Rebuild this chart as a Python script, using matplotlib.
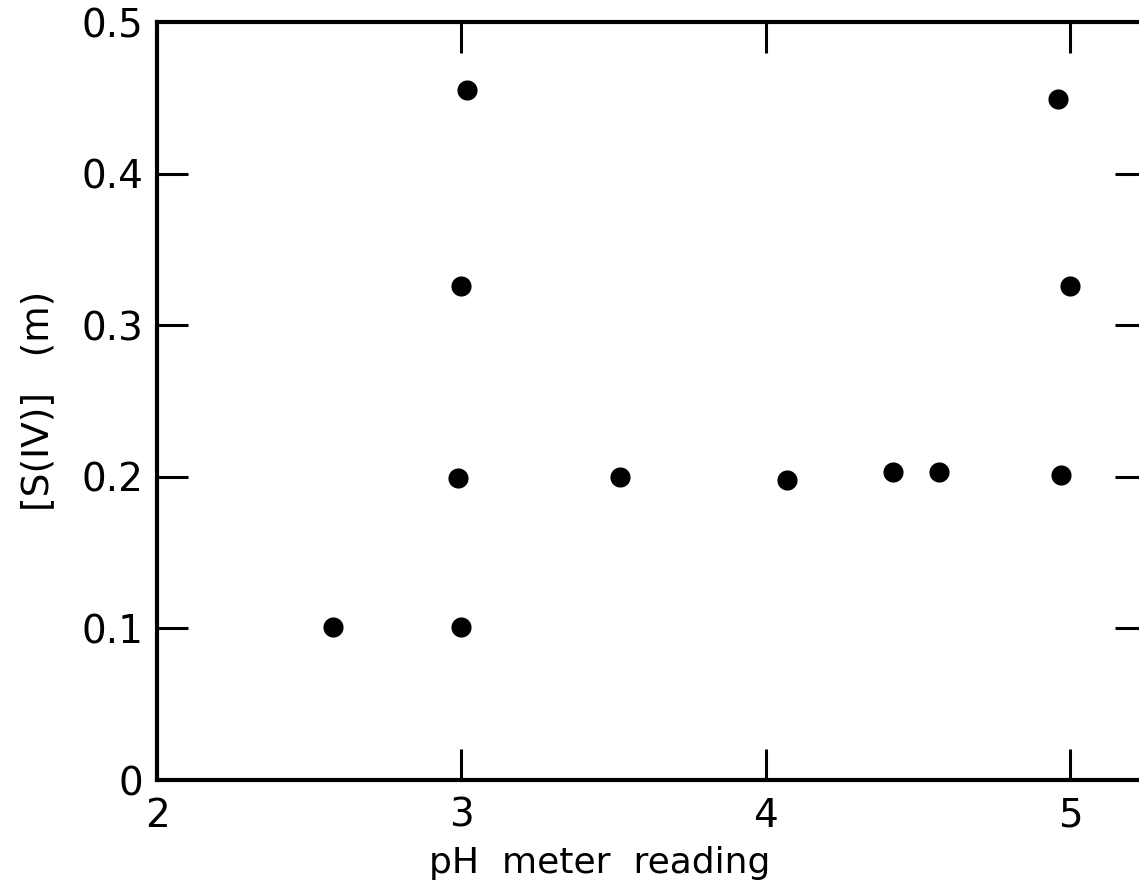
import numpy as np
import matplotlib.pyplot as plt

# pH meter reading vs S(IV) concentration
ph = [2.58, 3.00, 2.99, 3.00, 3.02, 3.52, 4.07, 4.42, 4.57, 4.97, 4.96, 5.00]
s4 = [0.101, 0.101, 0.199, 0.326, 0.455, 0.200, 0.198, 0.203, 0.203, 0.201, 0.449, 0.326]

xticks = [2, 3, 4, 5]
xlabels = ["2", "3", "4", "5"]
yticks = [0, 0.1, 0.2, 0.3, 0.4, 0.5]
ylabels = ["0", "0.1", "0.2", "0.3", "0.4", "0.5"]

W, H = 1139, 896
fig = plt.figure(figsize=(W / 100, H / 100), dpi=100)
# right spine sits just past the edge of the page, as in the scan
ax = fig.add_axes([157 / W, 1 - 780 / H, (1146 - 157) / W, (780 - 22) / H])

ax.scatter(ph, s4, s=210, color="black", zorder=3, linewidths=0)

ax.set_xlim(2, 5.25)
ax.set_ylim(0, 0.5)
ax.set_xticks(xticks)
ax.set_xticklabels(xlabels)
ax.set_yticks(yticks)
ax.set_yticklabels(ylabels)

for sp in ax.spines.values():
    sp.set_linewidth(3)

ax.tick_params(direction="in", length=22, width=2.2, labelsize=28,
               top=True, right=True, pad=10)
ax.tick_params(axis="x", pad=12)

# no tick marks at the corners
for t in ax.xaxis.get_major_ticks()[:1] + ax.yaxis.get_major_ticks()[:1] + ax.yaxis.get_major_ticks()[-1:]:
    t.tick1line.set_visible(False)
    t.tick2line.set_visible(False)

ax.set_xlabel("pH  meter  reading", fontsize=26)
ax.xaxis.set_label_coords(0.448, -0.087)
ax.set_ylabel("[S(IV)]   (m)", fontsize=27, labelpad=18)

fig.savefig("out.png", dpi=100)
